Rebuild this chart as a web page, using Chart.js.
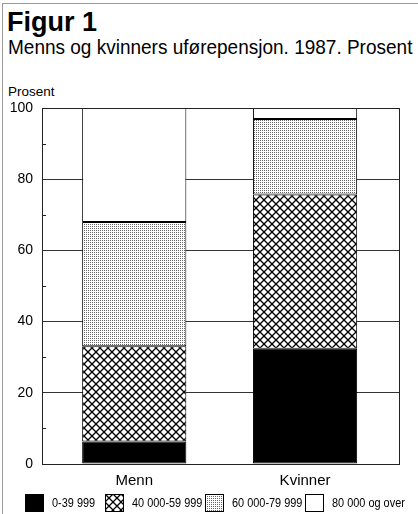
<!DOCTYPE html>
<html>
<head>
<meta charset="utf-8">
<script src="https://cdn.jsdelivr.net/npm/chart.js@4/dist/chart.umd.min.js"></script>
<style>
  body { margin: 0; background: #fff; }
  #wrap { position: relative; width: 418px; height: 514px; overflow: hidden; }
  #frame { position: absolute; left: 2px; top: 3px; width: 420px; height: 520px;
           border-left: 1px solid #999; border-top: 1px solid #999; }
  .txt { position: absolute; color: #000; white-space: nowrap; font-family: "Liberation Sans", Arial, sans-serif; transform-origin: 0 0; }
  #t1 { left: 7px; top: 7px; font-weight: bold; font-size: 27px; line-height: 31px; }
  #t2 { left: 8px; top: 35px; font-size: 20.5px; }
  #t3 { left: 8px; top: 84px; font-size: 13.5px; }
  canvas { position: absolute; left: 0; top: 0; }
  .leg { position: absolute; top: 494px; height: 18px; }
  .leg canvas { position: absolute; left: 0; top: 0; }
  .leg span { position: absolute; top: 1px; font-family: "Liberation Sans", Arial, sans-serif; font-size: 13px;
              white-space: nowrap; transform: scaleX(0.84); transform-origin: 0 0; }
</style>
</head>
<body>
<div id="wrap">
  <div id="frame"></div>
  <div class="txt" id="t1">Figur 1</div>
  <div class="txt" id="t2">Menns og kvinners uførepensjon. 1987. Prosent</div>
  <div class="txt" id="t3">Prosent</div>
  <canvas id="MyChart" width="418" height="514"></canvas>
  <div id="legende"></div>
</div>
<script>
// data
categories = ['Menn', 'Kvinner']
groups = ['0-39 999', '40 000-59 999', '60 000-79 999', '80 000 og over']
lav = [6.3, 32.4]
middels = [26.8, 43.3]
hoy = [34.9, 21.2]
hoyest = [32.0, 3.1]
yTicks = [0, 20, 40, 60, 80, 100]

// squeeze the subtitle like the narrow print face
t2 = document.getElementById('t2')
t2.style.transform = `scaleX(${404 / t2.scrollWidth})`

const fnt = '"Liberation Sans", Arial, sans-serif'

// hatch patterns
function crossPattern(g0) {
    const c = document.createElement('canvas')
    c.width = 8; c.height = 8
    const g = c.getContext('2d')
    g.fillStyle = '#fff'; g.fillRect(0, 0, 8, 8)
    g.strokeStyle = '#000'; g.lineWidth = 1.3
    g.beginPath()
    g.moveTo(0, 0); g.lineTo(8, 8)
    g.moveTo(8, 0); g.lineTo(0, 8)
    g.stroke()
    return g0.createPattern(c, 'repeat')
}
function dotPattern(g0) {
    const c = document.createElement('canvas')
    c.width = 2; c.height = 2
    const g = c.getContext('2d')
    g.fillStyle = '#fff'; g.fillRect(0, 0, 2, 2)
    g.fillStyle = '#666'; g.fillRect(0, 0, 1, 1)
    return g0.createPattern(c, 'repeat')
}

const mainCtx = document.getElementById('MyChart').getContext('2d')
fills = ['#000', crossPattern(mainCtx), dotPattern(mainCtx), '#fff']
values = [lav, middels, hoy, hoyest]

// frame round plot area + small minor ticks on the left
const extras = {
    id: 'extras',
    afterDraw(chart) {
        const ctx = chart.ctx
        const a = chart.chartArea
        const y = chart.scales.y
        ctx.save()
        ctx.strokeStyle = '#222'
        ctx.lineWidth = 1
        ctx.strokeRect(Math.round(a.left) + 0.5, Math.round(a.top) + 0.5,
            Math.round(a.right - a.left), Math.round(a.bottom - a.top))
        for (let v = 10; v < 100; v += 20) {
            const py = Math.round(y.getPixelForValue(v)) + 0.5
            ctx.beginPath()
            ctx.moveTo(a.left, py); ctx.lineTo(a.left + 4, py)
            ctx.stroke()
        }
        ctx.restore()
    }
}

const data = {
    labels: categories,
    datasets: groups.map((g, i) => ({
        label: g,
        data: values[i],
        backgroundColor: fills[i],
        borderColor: '#000',
        borderWidth: 1,
        borderSkipped: false,
        categoryPercentage: 1,
        barPercentage: 0.61
    }))
}

new Chart(mainCtx, {
    type: 'bar',
    data: data,
    plugins: [extras],
    options: {
        responsive: false,
        animation: false,
        layout: { padding: { top: 108, right: 19, left: 0, bottom: 24 } },
        scales: {
            x: {
                stacked: true,
                // bars sit a bit further in from the frame than half a slot
                afterBuildTicks(s) { s._startValue = -0.54; s._valueRange = 2.09 },
                grid: { display: false },
                border: { display: false },
                ticks: { color: '#000', font: { family: fnt, size: 15 }, padding: 0 }
            },
            y: {
                stacked: true,
                min: 0, max: 100,
                afterFit(s) { s.width = 42 },
                afterBuildTicks(s) { s.ticks = yTicks.map(v => ({ value: v })) },
                grid: { color: '#333', lineWidth: 1, drawTicks: false },
                border: { display: false },
                ticks: { color: '#000', font: { family: fnt, size: 14 }, padding: 9 }
            }
        },
        plugins: {
            tooltip: { enabled: false },
            legend: { display: false }
        }
    }
})

// legend underneath, one row
legendX = [25, 105, 205, 305]
const leg = document.getElementById('legende')
groups.forEach((g, i) => {
    const d = document.createElement('div')
    d.className = 'leg'
    d.style.left = legendX[i] + 'px'
    const c = document.createElement('canvas')
    c.width = 19; c.height = 18
    const cx = c.getContext('2d')
    cx.fillStyle = i === 1 ? crossPattern(cx) : i === 2 ? dotPattern(cx) : fills[i]
    cx.fillRect(0, 0, 19, 18)
    cx.strokeStyle = '#000'; cx.lineWidth = 1
    cx.strokeRect(0.5, 0.5, 18, 17)
    const s = document.createElement('span')
    s.style.left = '27px'
    s.textContent = g
    d.appendChild(c); d.appendChild(s)
    leg.appendChild(d)
})
</script>
</body>
</html>
